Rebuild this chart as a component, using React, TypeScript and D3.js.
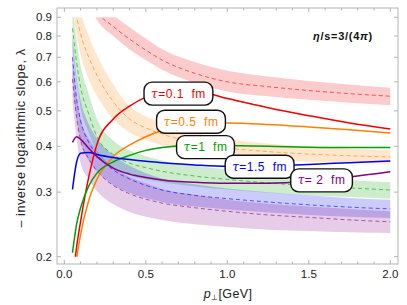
import React, { useEffect, useRef } from 'react';
import * as d3 from 'd3';

// transverse momentum grid (GeV), shared by all curves
const pT = [0.05, 0.075, 0.1, 0.15, 0.2, 0.3, 0.4, 0.5, 0.6, 0.8, 1.0, 1.25, 1.5, 1.75, 2.0];

const tauLabels = ['0.1', '0.5', '1', '1.5', ' 2'];
const colors = ['#f00000', '#ff8000', '#00a000', '#0000f0', '#800080'];

// solid curves (full calculation) for each tau
const solidTau01 = [0.17, 0.212, 0.25, 0.33, 0.405, 0.475, 0.515, 0.545, 0.562, 0.566, 0.54, 0.51, 0.485, 0.463, 0.446];
const solidTau05 = [0.14, 0.195, 0.23, 0.285, 0.325, 0.375, 0.403, 0.425, 0.442, 0.458, 0.463, 0.459, 0.452, 0.444, 0.435];
const solidTau1 = [0.205, 0.245, 0.272, 0.312, 0.338, 0.363, 0.378, 0.39, 0.397, 0.403, 0.402, 0.4, 0.398, 0.397, 0.397];
const solidTau15 = [0.305, 0.362, 0.383, 0.385, 0.38, 0.373, 0.368, 0.364, 0.361, 0.356, 0.353, 0.354, 0.357, 0.361, 0.365];
const solidTau2 = [0.41, 0.425, 0.418, 0.395, 0.375, 0.349, 0.336, 0.329, 0.324, 0.319, 0.317, 0.317, 0.321, 0.33, 0.341];

// dashed curves and their bands
const dashTau01 = [1.6, 1.4, 1.25, 1.06, 0.94, 0.85, 0.785, 0.732, 0.688, 0.633, 0.6, 0.582, 0.568, 0.557, 0.548];
const hiTau01 = [1.75, 1.53, 1.37, 1.16, 1.03, 0.915, 0.845, 0.788, 0.737, 0.679, 0.643, 0.62, 0.603, 0.59, 0.578];
const loTau01 = [1.45, 1.28, 1.15, 0.98, 0.885, 0.8, 0.735, 0.688, 0.647, 0.596, 0.565, 0.548, 0.536, 0.526, 0.518];

const dashTau05 = [1.1, 0.91, 0.81, 0.7, 0.625, 0.53, 0.475, 0.449, 0.432, 0.41, 0.396, 0.387, 0.381, 0.377, 0.374];
const hiTau05 = [1.25, 1.04, 0.93, 0.8, 0.71, 0.59, 0.515, 0.483, 0.462, 0.436, 0.419, 0.407, 0.399, 0.394, 0.39];
const loTau05 = [0.96, 0.8, 0.71, 0.61, 0.55, 0.475, 0.437, 0.416, 0.403, 0.385, 0.374, 0.367, 0.363, 0.361, 0.359];

const dashTau1 = [0.84, 0.68, 0.58, 0.49, 0.425, 0.38, 0.36, 0.35, 0.342, 0.332, 0.325, 0.318, 0.312, 0.308, 0.304];
const hiTau1 = [0.96, 0.78, 0.665, 0.555, 0.475, 0.415, 0.39, 0.376, 0.366, 0.354, 0.346, 0.338, 0.331, 0.324, 0.319];
const loTau1 = [0.74, 0.6, 0.51, 0.435, 0.385, 0.35, 0.333, 0.325, 0.319, 0.311, 0.305, 0.299, 0.294, 0.291, 0.288];

const dashTau15 = [0.7, 0.54, 0.47, 0.41, 0.38, 0.345, 0.326, 0.313, 0.304, 0.294, 0.288, 0.282, 0.277, 0.273, 0.27];
const hiTau15 = [0.8, 0.62, 0.535, 0.46, 0.42, 0.378, 0.354, 0.338, 0.327, 0.315, 0.307, 0.3, 0.294, 0.289, 0.286];
const loTau15 = [0.61, 0.475, 0.415, 0.365, 0.342, 0.314, 0.299, 0.289, 0.282, 0.274, 0.269, 0.264, 0.26, 0.257, 0.255];

const dashTau2 = [0.61, 0.48, 0.415, 0.37, 0.343, 0.313, 0.297, 0.287, 0.28, 0.272, 0.266, 0.26, 0.256, 0.252, 0.249];
const hiTau2 = [0.7, 0.55, 0.475, 0.42, 0.39, 0.35, 0.33, 0.317, 0.306, 0.295, 0.286, 0.279, 0.274, 0.27, 0.266];
const loTau2 = [0.53, 0.42, 0.36, 0.325, 0.302, 0.278, 0.265, 0.257, 0.252, 0.245, 0.241, 0.237, 0.235, 0.233, 0.232];

// where each callout sits, in data coords (pT, lambda)
const labelAt = [[0.70, 0.557], [0.777, 0.467], [0.866, 0.398], [1.198, 0.352], [1.578, 0.323]];

const xTicks = [0, 0.5, 1.0, 1.5, 2.0];
const yTicks = [0.2, 0.3, 0.4, 0.5, 0.6, 0.7, 0.8, 0.9];

const W = 407;
const H = 305;
const FONT = '"Liberation Sans", Arial, sans-serif';

export default function App() {
  const ref = useRef<SVGSVGElement>(null);

  useEffect(() => {
    const svg = d3.select(ref.current);
    svg.selectAll('*').remove();

    const x = d3.scaleLinear().domain([-0.045, 2.047]).range([57, 398]);
    const y = d3.scaleLog().domain([0.191, 0.954]).range([264, 8]);

    const solids = [solidTau01, solidTau05, solidTau1, solidTau15, solidTau2];
    const dashes = [dashTau01, dashTau05, dashTau1, dashTau15, dashTau2];
    const his = [hiTau01, hiTau05, hiTau1, hiTau15, hiTau2];
    const los = [loTau01, loTau05, loTau1, loTau15, loTau2];

    svg.append('defs').append('clipPath').attr('id', 'plotclip')
      .append('rect')
      .attr('x', x(-0.045)).attr('width', x(2.047) - x(-0.045))
      .attr('y', y(0.9)).attr('height', y(0.2) - y(0.9));

    const g = svg.append('g').attr('clip-path', 'url(#plotclip)');

    // bands first, then dashed, then solid
    dashes.forEach((_, k) => {
      const lo = los[k], hi = his[k];
      const band = d3.area<number>()
        .x((d, i) => x(pT[i]))
        .y0((d, i) => y(lo[i]))
        .y1((d, i) => y(hi[i]))
        .curve(d3.curveMonotoneX);
      g.append('path').attr('d', band(pT))
        .attr('fill', colors[k]).attr('fill-opacity', 0.2).attr('stroke', 'none');
    });

    const line = d3.line<number>()
      .x((d, i) => x(pT[i]))
      .y((d) => y(d))
      .curve(d3.curveMonotoneX);

    dashes.forEach((vals, k) => {
      g.append('path').attr('d', line(vals))
        .attr('fill', 'none').attr('stroke', colors[k])
        .attr('stroke-opacity', 0.75)
        .attr('stroke-width', 0.8).attr('stroke-dasharray', '4,3');
    });

    solids.forEach((vals, k) => {
      g.append('path').attr('d', line(vals))
        .attr('fill', 'none').attr('stroke', colors[k])
        .attr('stroke-width', 1.5);
    });

    // frame and ticks
    const frame = '#b4b4b4';
    svg.append('rect')
      .attr('x', 57).attr('y', 8).attr('width', 341).attr('height', 256)
      .attr('fill', 'none').attr('stroke', frame).attr('stroke-width', 1);

    const minor = d3.range(0, 2.01, 0.1);
    minor.forEach((t) => {
      const major = xTicks.some((m) => Math.abs(m - t) < 1e-6);
      const len = major ? 4 : 2.5;
      svg.append('line').attr('x1', x(t)).attr('x2', x(t))
        .attr('y1', 264).attr('y2', 264 - len).attr('stroke', frame);
      svg.append('line').attr('x1', x(t)).attr('x2', x(t))
        .attr('y1', 8).attr('y2', 8 + len).attr('stroke', frame);
    });
    yTicks.forEach((t) => {
      svg.append('line').attr('x1', 57).attr('x2', 61)
        .attr('y1', y(t)).attr('y2', y(t)).attr('stroke', frame);
      svg.append('line').attr('x1', 398).attr('x2', 394)
        .attr('y1', y(t)).attr('y2', y(t)).attr('stroke', frame);
    });

    svg.selectAll('.xt').data(xTicks).enter().append('text')
      .attr('x', (d) => x(d)).attr('y', 278)
      .attr('text-anchor', 'middle')
      .attr('font-family', FONT).attr('font-size', 11.5).attr('fill', '#222')
      .text((d) => d.toFixed(1));

    svg.selectAll('.yt').data(yTicks).enter().append('text')
      .attr('x', 52).attr('y', (d) => y(d) + 4)
      .attr('text-anchor', 'end')
      .attr('font-family', FONT).attr('font-size', 11.5).attr('fill', '#222')
      .text((d) => d.toFixed(1));

    // axis titles
    svg.append('text')
      .attr('transform', 'translate(25,138) rotate(-90)')
      .attr('text-anchor', 'middle')
      .attr('font-family', FONT).attr('font-size', 12.5).attr('fill', '#222')
      .attr('letter-spacing', 0.6)
      .text('\u2013 inverse logarithmic slope, \u03bb');

    const xl = svg.append('text')
      .attr('x', 228).attr('y', 298).attr('text-anchor', 'middle')
      .attr('font-family', FONT).attr('font-size', 12.5).attr('fill', '#222')
      .attr('letter-spacing', 0.4);
    xl.append('tspan').attr('font-style', 'italic').text('p');
    xl.append('tspan').attr('font-size', 8).attr('dy', 2).text('\u22a5');
    xl.append('tspan').attr('dy', -2).text('[GeV]');

    const ann = svg.append('text')
      .attr('x', 343).attr('y', 40).attr('text-anchor', 'middle')
      .attr('font-family', FONT).attr('font-size', 11).attr('font-weight', 'bold').attr('fill', '#111')
      .attr('letter-spacing', 0.7);
    ann.append('tspan').attr('font-style', 'italic').text('\u03b7');
    ann.append('tspan').text('/s=3/(4');
    ann.append('tspan').attr('font-style', 'italic').text('\u03c0');
    ann.append('tspan').text(')');

    // callouts
    tauLabels.forEach((lab, k) => {
      const cx = x(labelAt[k][0]);
      const cy = y(labelAt[k][1]);
      const lg = svg.append('g');
      const box = lg.append('rect');
      const t = lg.append('text')
        .attr('x', cx).attr('y', cy + 4).attr('text-anchor', 'middle')
        .attr('font-family', FONT).attr('font-size', 12).attr('fill', colors[k])
        .attr('letter-spacing', 0.5);
      t.append('tspan').attr('font-family', '"DejaVu Serif", serif').attr('font-style', 'italic').text('\u03c4');
      t.append('tspan').text('=' + lab + '\u00a0 fm');
      const bb = (t.node() as SVGTextElement).getBBox();
      box.attr('x', bb.x - 7).attr('y', cy - 11.5)
        .attr('width', bb.width + 14).attr('height', 23)
        .attr('rx', 8).attr('ry', 8)
        .attr('fill', 'white').attr('stroke', '#111').attr('stroke-width', 1.4);
    });
  }, []);

  return (
    <svg ref={ref} width={W} height={H}
      style={{ position: 'absolute', left: 0, top: 0, background: 'white' }} />
  );
}
